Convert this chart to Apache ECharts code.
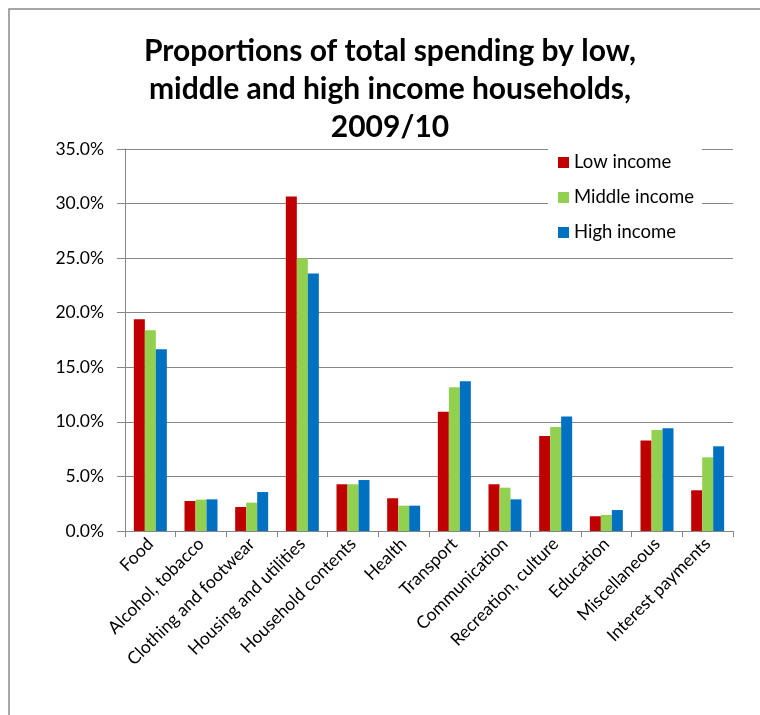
<!DOCTYPE html>
<html>
<head>
<meta charset="utf-8">
<script src="https://cdn.jsdelivr.net/npm/echarts@6/dist/echarts.min.js"></script>
<style>html,body{margin:0;padding:0;background:#fff}#c{width:760px;height:715px}</style>
</head>
<body>
<div id="c"></div>
<script>
const categories = ["Food","Alcohol, tobacco","Clothing and footwear","Housing and utilities","Household contents","Health","Transport","Communication","Recreation, culture","Education","Miscellaneous","Interest payments"];
const lowIncome    = [19.4, 2.75, 2.2, 30.65, 4.28, 3.0, 10.93, 4.28, 8.7, 1.35, 8.3, 3.73];
const middleIncome = [18.4, 2.87, 2.6, 25.0, 4.28, 2.32, 13.17, 3.97, 9.53, 1.47, 9.26, 6.75];
const highIncome   = [16.65, 2.9, 3.57, 23.6, 4.67, 2.32, 13.72, 2.9, 10.5, 1.92, 9.41, 7.76];
const seriesNames = ["Low income","Middle income","High income"];
const yTicks = {min: 0, max: 35, interval: 5};

const FONT = 'Lato';
const chart = echarts.init(document.getElementById('c'), null, {renderer: 'canvas'});
const mk = (name, data, color) => ({
  name, type: 'bar', data, barWidth: 11, barGap: '0%',
  itemStyle: {color}
});
chart.setOption({
  animation: false,
  backgroundColor: '#fff',
  title: {
    text: 'Proportions of total spending by low,\nmiddle and high income households,\n2009/10',
    left: 385, top: 27, textAlign: 'center',
    textStyle: {fontFamily: FONT, fontWeight: 'bold', fontSize: 30, lineHeight: 38, color: '#000'}
  },
  legend: {
    orient: 'vertical', left: 548, top: 145,
    data: seriesNames,
    itemWidth: 11, itemHeight: 11, itemGap: 16,
    padding: [8, 8, 8, 10],
    backgroundColor: '#fff',
    textStyle: {fontFamily: FONT, fontSize: 18.5, color: '#000'},
    icon: 'rect'
  },
  grid: {left: 125, right: 27, top: 149, bottom: 184, containLabel: false},
  xAxis: {
    type: 'category', data: categories,
    axisLine: {lineStyle: {color: '#868686'}},
    axisTick: {show: true, length: 6, lineStyle: {color: '#868686'}},
    axisLabel: {interval: 0, rotate: 45, fontFamily: FONT, fontSize: 17.5, color: '#000', margin: 10}
  },
  yAxis: {
    type: 'value', min: yTicks.min, max: yTicks.max, interval: yTicks.interval,
    axisLine: {show: true, lineStyle: {color: '#868686'}},
    axisTick: {show: true, length: 8, lineStyle: {color: '#868686'}},
    splitLine: {lineStyle: {color: '#868686'}},
    axisLabel: {formatter: v => v.toFixed(1) + '%', fontFamily: FONT, fontSize: 17.5, color: '#000', margin: 21}
  },
  graphic: [{
    type: 'rect', shape: {x: 9, y: 9, width: 800, height: 800},
    style: {fill: 'none', stroke: '#888', lineWidth: 1.5}, silent: true
  }],
  series: [
    mk(seriesNames[0], lowIncome, '#C00000'),
    mk(seriesNames[1], middleIncome, '#92D050'),
    mk(seriesNames[2], highIncome, '#0070C0')
  ]
});
</script>
</body>
</html>
